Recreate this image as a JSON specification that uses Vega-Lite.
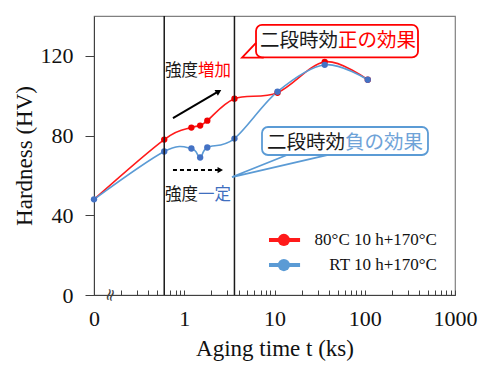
{
  "$schema": "https://vega.github.io/schema/vega-lite/v6.json",
  "width": 361,
  "height": 279,
  "autosize": {"type": "none"},
  "padding": {"left": 94, "top": 16, "right": 29, "bottom": 72},
  "background": "white",
  "config": {
    "view": {"stroke": "#808080", "strokeWidth": 1.2},
    "axis": {"labelFont": "Liberation Serif", "titleFont": "Liberation Serif", "labelColor": "#111", "titleColor": "#111", "grid": false, "domainColor": "#404040", "tickColor": "#404040", "labelFontSize": 22, "titleFontSize": 23, "titleFontWeight": "normal", "labelOverlap": false},
    "axisX": {"tickSize": -5, "labelPadding": 18, "titlePadding": 8, "labelFlush": false},
    "axisY": {"tickSize": 9, "labelPadding": 12, "titlePadding": 4, "labelSeparation": -30}
  },
  "layer": [
    {
      "data": {"values": [
        {"t": 0.1, "hv": 48}, {"t": 0.6, "hv": 78}, {"t": 1.2, "hv": 84}, {"t": 1.5, "hv": 85}, {"t": 1.8, "hv": 87.5},
        {"t": 3.6, "hv": 98.5}, {"t": 10.8, "hv": 101.5}, {"t": 36, "hv": 117}, {"t": 108, "hv": 108}
      ]},
      "mark": {"type": "line", "interpolate": "cardinal", "tension": 0, "strokeWidth": 1.6, "color": "#ff1a1a"},
      "encoding": {
        "x": {"field": "t", "type": "quantitative", "scale": {"type": "log", "domain": [0.1, 1000], "nice": false},
          "axis": {"values": [0.1, 0.2, 0.3, 0.4, 0.5, 0.6, 0.7, 0.8, 0.9, 1, 2, 3, 4, 5, 6, 7, 8, 9, 10, 20, 30, 40, 50, 60, 70, 80, 90, 100, 200, 300, 400, 500, 600, 700, 800, 900, 1000],
            "labelExpr": "datum.value == 0.1 ? '0' : (datum.value == 1 || datum.value == 10 || datum.value == 100 || datum.value == 1000) ? datum.value : ''",
            "title": "Aging time t (ks)"}},
        "y": {"field": "hv", "type": "quantitative", "scale": {"domain": [0, 140], "nice": false},
          "axis": {"values": [0, 20, 40, 60, 80, 100, 120, 140], "labelOverlap": false, "title": "Hardness (HV)"}}
      }
    },
    {
      "data": {"values": [
        {"t": 0.1, "hv": 48}, {"t": 0.6, "hv": 72}, {"t": 1.2, "hv": 73.5}, {"t": 1.5, "hv": 69}, {"t": 1.8, "hv": 74},
        {"t": 3.6, "hv": 78.5}, {"t": 10.8, "hv": 102}, {"t": 36, "hv": 115.5}, {"t": 108, "hv": 108}
      ]},
      "mark": {"type": "line", "interpolate": "cardinal", "tension": 0, "strokeWidth": 1.6, "color": "#5b9bd5"},
      "encoding": {
        "x": {"field": "t", "type": "quantitative"},
        "y": {"field": "hv", "type": "quantitative"}
      }
    },
    {
      "data": {"values": [
        {"t": 0.6, "hv": 78}, {"t": 1.2, "hv": 84}, {"t": 1.5, "hv": 85}, {"t": 1.8, "hv": 87.5},
        {"t": 3.6, "hv": 98.5}, {"t": 10.8, "hv": 101.5}, {"t": 36, "hv": 117}, {"t": 108, "hv": 108}
      ]},
      "mark": {"type": "point", "filled": true, "opacity": 1, "size": 40, "color": "#f00000"},
      "encoding": {
        "x": {"field": "t", "type": "quantitative"},
        "y": {"field": "hv", "type": "quantitative"}
      }
    },
    {
      "data": {"values": [
        {"t": 0.1, "hv": 48}, {"t": 0.6, "hv": 72}, {"t": 1.2, "hv": 73.5}, {"t": 1.5, "hv": 69}, {"t": 1.8, "hv": 74},
        {"t": 3.6, "hv": 78.5}, {"t": 10.8, "hv": 102}, {"t": 36, "hv": 115.5}, {"t": 108, "hv": 108}
      ]},
      "mark": {"type": "point", "filled": true, "opacity": 1, "size": 40, "color": "#4472c4"},
      "encoding": {
        "x": {"field": "t", "type": "quantitative"},
        "y": {"field": "hv", "type": "quantitative"}
      }
    },
    {
      "data": {"values": [{"t": 0.6}, {"t": 3.6}]},
      "mark": {"type": "rule", "color": "#1a1a1a", "strokeWidth": 1.5},
      "encoding": {
        "x": {"field": "t", "type": "quantitative"}
      }
    },
    {
      "data": {"values": [{"t": 6.24, "t2": 389, "hv": 135.5, "hv2": 119.2}]},
      "mark": {"type": "rect", "fill": "white", "stroke": "#ff0000", "strokeWidth": 1.8, "cornerRadius": 6},
      "encoding": {
        "x": {"field": "t", "type": "quantitative"},
        "x2": {"field": "t2"},
        "y": {"field": "hv", "type": "quantitative"},
        "y2": {"field": "hv2"}
      }
    },
    {
      "data": {"values": [{"t": 7.27, "t2": 502, "hv": 84.3, "hv2": 70.25}]},
      "mark": {"type": "rect", "fill": "white", "stroke": "#5b9bd5", "strokeWidth": 1.8, "cornerRadius": 6},
      "encoding": {
        "x": {"field": "t", "type": "quantitative"},
        "x2": {"field": "t2"},
        "y": {"field": "hv", "type": "quantitative"},
        "y2": {"field": "hv2"}
      }
    },
    {
      "data": {"values": [{"ord": 1, "t": 6.24, "hv": 126.5}, {"ord": 2, "t": 4.37, "hv": 119.1}, {"ord": 3, "t": 7.6, "hv": 119.1}]},
      "mark": {"type": "line", "strokeWidth": 1.8, "strokeJoin": "miter", "color": "#ff0000"},
      "encoding": {
        "x": {"field": "t", "type": "quantitative"},
        "y": {"field": "hv", "type": "quantitative"},
        "order": {"field": "ord"}
      }
    },
    {
      "data": {"values": [{"ord": 1, "t": 13.75, "hv": 70.25}, {"ord": 2, "t": 3.38, "hv": 59.2}, {"ord": 3, "t": 38.2, "hv": 70.25}]},
      "mark": {"type": "line", "strokeWidth": 1.8, "strokeJoin": "miter", "color": "#5b9bd5"},
      "encoding": {
        "x": {"field": "t", "type": "quantitative"},
        "y": {"field": "hv", "type": "quantitative"},
        "order": {"field": "ord"}
      }
    },
    {
      "data": {"values": [{"t": 50.5, "hv": 127.5, "label": "二段時効"}, {"t": 60.4, "hv": 76.3, "label": "二段時効"}]},
      "mark": {"type": "text", "align": "right", "baseline": "middle", "font": "Noto Sans CJK JP", "fontSize": 19.5, "color": "#1a1a1a"},
      "encoding": {
        "x": {"field": "t", "type": "quantitative"},
        "y": {"field": "hv", "type": "quantitative"},
        "text": {"field": "label"}
      }
    },
    {
      "data": {"values": [{"t": 50.5, "hv": 127.5, "label": "正の効果"}]},
      "mark": {"type": "text", "align": "left", "baseline": "middle", "font": "Noto Sans CJK JP", "fontSize": 19.5, "color": "#ff0000"},
      "encoding": {
        "x": {"field": "t", "type": "quantitative"},
        "y": {"field": "hv", "type": "quantitative"},
        "text": {"field": "label"}
      }
    },
    {
      "data": {"values": [{"t": 60.4, "hv": 76.3, "label": "負の効果"}]},
      "mark": {"type": "text", "align": "left", "baseline": "middle", "font": "Noto Sans CJK JP", "fontSize": 19.5, "color": "#6fa3d8"},
      "encoding": {
        "x": {"field": "t", "type": "quantitative"},
        "y": {"field": "hv", "type": "quantitative"},
        "text": {"field": "label"}
      }
    },
    {
      "data": {"values": [{"t": 1.42, "hv": 112.4, "label": "強度"}, {"t": 1.42, "hv": 50.2, "label": "強度"}]},
      "mark": {"type": "text", "align": "right", "baseline": "middle", "font": "Noto Sans CJK JP", "fontSize": 16.5, "color": "#1a1a1a"},
      "encoding": {
        "x": {"field": "t", "type": "quantitative"},
        "y": {"field": "hv", "type": "quantitative"},
        "text": {"field": "label"}
      }
    },
    {
      "data": {"values": [{"t": 1.42, "hv": 112.4, "label": "増加"}]},
      "mark": {"type": "text", "align": "left", "baseline": "middle", "font": "Noto Sans CJK JP", "fontSize": 16.5, "color": "#ff0000"},
      "encoding": {
        "x": {"field": "t", "type": "quantitative"},
        "y": {"field": "hv", "type": "quantitative"},
        "text": {"field": "label"}
      }
    },
    {
      "data": {"values": [{"t": 1.42, "hv": 50.2, "label": "一定"}]},
      "mark": {"type": "text", "align": "left", "baseline": "middle", "font": "Noto Sans CJK JP", "fontSize": 16.5, "color": "#3f6fbf"},
      "encoding": {
        "x": {"field": "t", "type": "quantitative"},
        "y": {"field": "hv", "type": "quantitative"},
        "text": {"field": "label"}
      }
    },
    {
      "data": {"values": [{"t": 0.75, "t2": 2.45, "hv": 88.8, "hv2": 102.4}]},
      "mark": {"type": "rule", "color": "#000", "strokeWidth": 2},
      "encoding": {
        "x": {"field": "t", "type": "quantitative"},
        "x2": {"field": "t2"},
        "y": {"field": "hv", "type": "quantitative"},
        "y2": {"field": "hv2"}
      }
    },
    {
      "data": {"values": [{"t": 2.36, "hv": 101.9}]},
      "mark": {"type": "point", "shape": "triangle", "filled": true, "color": "#000", "opacity": 1, "size": 45, "angle": 60},
      "encoding": {
        "x": {"field": "t", "type": "quantitative"},
        "y": {"field": "hv", "type": "quantitative"}
      }
    },
    {
      "data": {"values": [{"t": 0.75, "t2": 2.5, "hv": 62.7}]},
      "mark": {"type": "rule", "color": "#000", "strokeWidth": 2, "strokeDash": [4, 3]},
      "encoding": {
        "x": {"field": "t", "type": "quantitative"},
        "x2": {"field": "t2"},
        "y": {"field": "hv", "type": "quantitative"}
      }
    },
    {
      "data": {"values": [{"t": 2.45, "hv": 62.7}]},
      "mark": {"type": "point", "shape": "triangle", "filled": true, "color": "#000", "opacity": 1, "size": 40, "angle": 90},
      "encoding": {
        "x": {"field": "t", "type": "quantitative"},
        "y": {"field": "hv", "type": "quantitative"}
      }
    },
    {
      "data": {"values": [{"t": 8.69, "t2": 19.2, "hv": 27.6}]},
      "mark": {"type": "rule", "strokeWidth": 4, "color": "#ff1a1a"},
      "encoding": {
        "x": {"field": "t", "type": "quantitative"},
        "x2": {"field": "t2"},
        "y": {"field": "hv", "type": "quantitative"}
      }
    },
    {
      "data": {"values": [{"t": 8.69, "t2": 19.2, "hv": 15.05}]},
      "mark": {"type": "rule", "strokeWidth": 4, "color": "#5b9bd5"},
      "encoding": {
        "x": {"field": "t", "type": "quantitative"},
        "x2": {"field": "t2"},
        "y": {"field": "hv", "type": "quantitative"}
      }
    },
    {
      "data": {"values": [{"t": 12.7, "hv": 27.6}]},
      "mark": {"type": "point", "filled": true, "opacity": 1, "size": 150, "color": "#ff1a1a"},
      "encoding": {
        "x": {"field": "t", "type": "quantitative"},
        "y": {"field": "hv", "type": "quantitative"}
      }
    },
    {
      "data": {"values": [{"t": 12.7, "hv": 15.05}]},
      "mark": {"type": "point", "filled": true, "opacity": 1, "size": 150, "color": "#5b9bd5"},
      "encoding": {
        "x": {"field": "t", "type": "quantitative"},
        "y": {"field": "hv", "type": "quantitative"}
      }
    },
    {
      "data": {"values": [{"t": 631, "hv": 27.6, "label": "80°C 10 h+170°C"}, {"t": 631, "hv": 15.05, "label": "RT 10 h+170°C"}]},
      "mark": {"type": "text", "align": "right", "baseline": "middle", "font": "Liberation Serif", "fontSize": 17, "color": "#111"},
      "encoding": {
        "x": {"field": "t", "type": "quantitative"},
        "y": {"field": "hv", "type": "quantitative"},
        "text": {"field": "label"}
      }
    },
    {
      "data": {"values": [{"t": 0.15, "hv": 0, "label": "≈"}]},
      "mark": {"type": "text", "font": "DejaVu Sans", "fontSize": 17, "baseline": "middle", "color": "#404040", "clip": false, "angle": 105},
      "encoding": {
        "x": {"field": "t", "type": "quantitative"},
        "y": {"field": "hv", "type": "quantitative"},
        "text": {"field": "label"}
      }
    }
  ]
}
